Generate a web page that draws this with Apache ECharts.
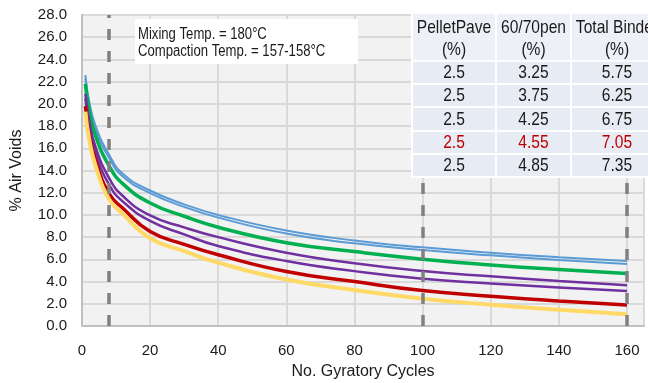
<!DOCTYPE html>
<html>
<head>
<meta charset="utf-8">
<script src="https://cdn.jsdelivr.net/npm/echarts@6/dist/echarts.min.js"></script>
<style>
html,body{margin:0;padding:0;background:#fff;}
#c{width:648px;height:383px;}
</style>
</head>
<body>
<div id="c"></div>
<script>
// ---- data ----
const cycles   = [1, 2, 4, 8, 12, 20, 30, 40, 60, 80, 100, 120, 140, 160];
const blueA    = [22.6, 20.4, 18.0, 15.4, 13.7, 12.2, 10.95, 10.0, 8.6, 7.7, 7.08, 6.6, 6.2, 5.85];
const blueB    = [22.3, 20.1, 17.7, 15.1, 13.45, 11.97, 10.72, 9.76, 8.32, 7.44, 6.84, 6.36, 5.95, 5.59];
const green    = [21.8, 19.6, 17.1, 14.4, 12.8, 11.07, 9.88, 8.89, 7.5, 6.7, 6.02, 5.5, 5.08, 4.72];
const purpleA  = [20.9, 18.7, 16.1, 13.3, 11.7, 9.95, 8.88, 8.0, 6.6, 5.65, 4.95, 4.47, 4.05, 3.67];
const purpleB  = [20.5, 18.3, 15.6, 12.7, 11.2, 9.46, 8.25, 7.2, 5.85, 4.94, 4.25, 3.83, 3.47, 3.16];
const red      = [19.8, 17.5, 14.9, 11.9, 10.6, 8.5, 7.35, 6.41, 4.9, 4.0, 3.19, 2.68, 2.25, 1.88];
const yellow   = [19.3, 17.0, 14.4, 11.4, 10.1, 7.9, 6.75, 5.7, 4.18, 3.24, 2.46, 1.92, 1.46, 1.06];
const dashX    = [8, 100, 160];

const yTicks = [0, 2, 4, 6, 8, 10, 12, 14, 16, 18, 20, 22, 24, 26, 28];
const xTicks = [0, 20, 40, 60, 80, 100, 120, 140, 160];

const tableHeader  = [['PelletPave', '(%)'], ['60/70pen', '(%)'], ['Total Binder', '(%)']];
const pelletPave   = ['2.5', '2.5', '2.5', '2.5', '2.5'];
const pen6070      = ['3.25', '3.75', '4.25', '4.55', '4.85'];
const totalBinder  = ['5.75', '6.25', '6.75', '7.05', '7.35'];
const highlightRow = 3;

const noteLines = ['Mixing Temp. = 180\u00B0C', 'Compaction Temp. = 157-158\u00B0C'];

// ---- build ----
const FONT = '"Liberation Sans", Arial, sans-serif';
const pairs = v => cycles.map((c, i) => [c, v[i]]);

function lineSeries(name, vals, color, width) {
  return {
    name, type: 'line', data: pairs(vals), showSymbol: false, symbol: 'none',
    smooth: 0.5,
    lineStyle: { color, width }, z: 3, silent: true
  };
}

const series = [
  lineSeries('blueA', blueA, '#5b9bd5', 2),
  lineSeries('blueB', blueB, '#5b9bd5', 2),
  lineSeries('green', green, '#00b050', 3.5),
  lineSeries('purpleA', purpleA, '#7030a0', 2.5),
  lineSeries('purpleB', purpleB, '#7030a0', 2.5),
  lineSeries('red', red, '#c00000', 3.5),
  lineSeries('yellow', yellow, '#ffd966', 4)
];
series.push({
  type: 'line', data: [], silent: true, z: 2,
  markLine: {
    silent: true, symbol: ['none', 'none'], label: { show: false },
    lineStyle: { color: '#808080', width: 3.5, type: [11, 11] },
    data: dashX.map(x => ({ xAxis: x }))
  }
});

// narrow text helper (emulates a condensed face by horizontal scaling)
function narrowText(t, x, y, size, color, align) {
  return {
    type: 'text', z: 101, x: x, y: y, scaleX: 0.82, scaleY: 1,
    style: { text: t, x: 0, y: 0, align: align || 'center', verticalAlign: 'middle',
             font: size + 'px ' + FONT, fill: color }
  };
}

// table graphic
const colX = [412, 496, 571, 663];
const rowY = [13, 61, 84, 107, 131, 154, 177];
const cols = [pelletPave, pen6070, totalBinder];
const graphics = [];
for (let c = 0; c < 3; c++) {
  for (let r = 0; r < 6; r++) {
    graphics.push({
      type: 'rect', z: 100,
      shape: { x: colX[c], y: rowY[r], width: colX[c + 1] - colX[c], height: rowY[r + 1] - rowY[r] },
      style: { fill: r === 0 ? '#edf0f6' : '#e7ebf4', stroke: '#ffffff', lineWidth: 2 }
    });
  }
  const cx = (colX[c] + colX[c + 1]) / 2;
  tableHeader[c].forEach((t, k) => {
    graphics.push(narrowText(t, cx, k === 0 ? 28 : 50, 19, '#1a1a1a'));
  });
  cols[c].forEach((t, r) => {
    graphics.push(narrowText(t, cx, (rowY[r + 1] + rowY[r + 2]) / 2 + 0.5, 19,
      r === highlightRow ? '#c00000' : '#1a1a1a'));
  });
}
// annotation box
graphics.push({ type: 'rect', z: 100, shape: { x: 135, y: 19, width: 223, height: 45 }, style: { fill: '#ffffff' } });
noteLines.forEach((t, k) => {
  graphics.push(narrowText(t, 138, 35 + k * 17, 16, '#1a1a1a', 'left'));
});

const chart = echarts.init(document.getElementById('c'), null, { renderer: 'canvas' });
chart.setOption({
  animation: false,
  backgroundColor: '#ffffff',
  grid: { left: 82, right: 4, top: 15, bottom: 57, show: true, backgroundColor: '#f2f2f2', borderWidth: 0,
          containLabel: false, outerBoundsMode: 'none' },
  xAxis: {
    type: 'value', min: 0, max: 165, interval: 20,
    name: 'No. Gyratory Cycles', nameLocation: 'middle', nameGap: 38,
    nameTextStyle: { fontFamily: FONT, fontSize: 16, color: '#1a1a1a' },
    axisLine: { show: true, lineStyle: { color: '#c0c0c0', width: 2 } },
    axisTick: { show: false },
    axisLabel: { showMaxLabel: false, margin: 17, fontFamily: FONT, fontSize: 15, color: '#1a1a1a',
                 formatter: v => (xTicks.indexOf(v) >= 0 ? String(v) : '') },
    splitLine: { show: true, lineStyle: { color: '#d9d9d9', width: 2 } }
  },
  yAxis: {
    type: 'value', min: 0, max: 28, interval: 2,
    name: '% Air Voids', nameLocation: 'middle', nameGap: 57, nameRotate: 90,
    nameTextStyle: { fontFamily: FONT, fontSize: 16, color: '#1a1a1a' },
    axisLine: { show: true, lineStyle: { color: '#c0c0c0', width: 2 } },
    axisTick: { show: false },
    axisLabel: { margin: 15, fontFamily: FONT, fontSize: 15, color: '#1a1a1a',
                 formatter: v => (yTicks.indexOf(v) >= 0 ? v.toFixed(1) : '') },
    splitLine: { show: true, lineStyle: { color: '#d9d9d9', width: 2 } }
  },
  series,
  graphic: { elements: graphics }
});
</script>
</body>
</html>
